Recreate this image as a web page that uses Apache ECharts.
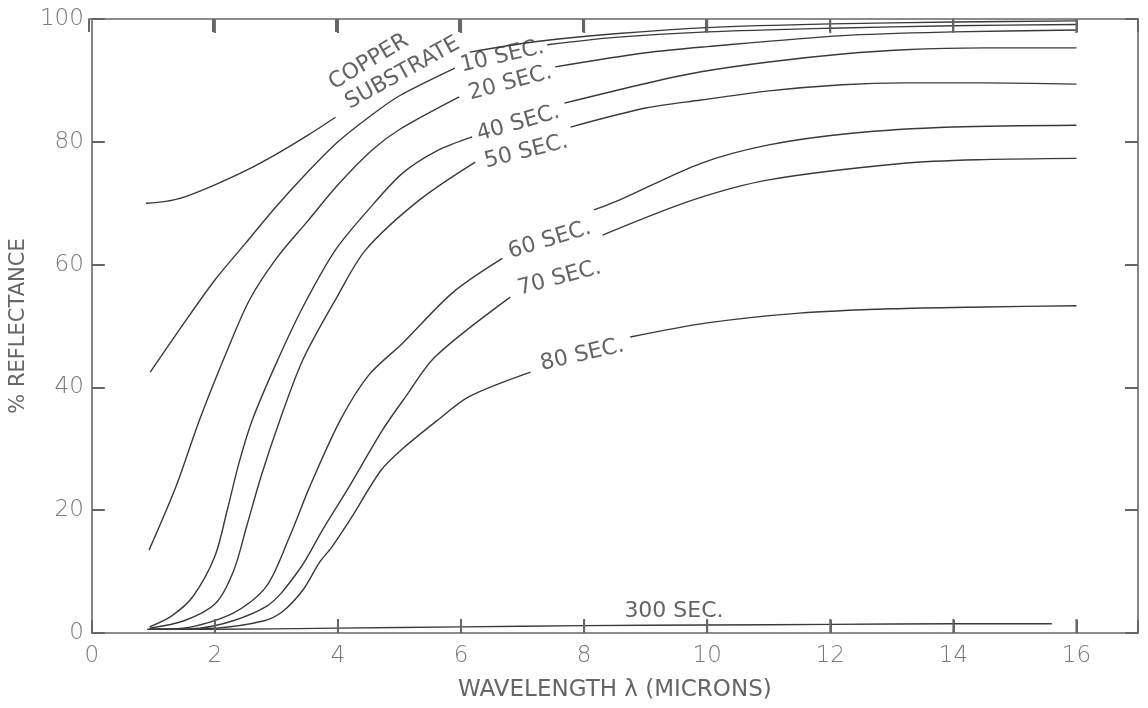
<!DOCTYPE html>
<html>
<head>
<meta charset="utf-8">
<script src="https://cdn.jsdelivr.net/npm/echarts@6/dist/echarts.min.js"></script>
<style>
  html, body { margin: 0; padding: 0; background: #fff; }
  #main { width: 1148px; height: 708px; }
</style>
</head>
<body>
<div id="main"></div>
<script>
// reflectance curves; null = gap where the label sits
var copper = [[0.88, 70], [1.2, 70.3], [1.5, 71], [2.0, 73], [2.5, 75.3], [3.0, 78], [3.5, 81], [3.96, 84], null,
    [6.14, 94.6], [7.2, 96.3], [8.5, 97.6], [10, 98.6], [12, 99.2], [14, 99.5], [16, 99.7]];
var sec10 = [[0.95, 42.5], [1.5, 50.5], [2.0, 57.5], [2.5, 63.5], [3.0, 69.5], [3.5, 75], [4.0, 80], [4.5, 84], [5.0, 87.5], [5.9, 92], null,
    [7.4, 95.8], [8.5, 97], [10, 97.9], [12, 98.5], [14, 98.9], [16, 99.1]];
var sec20 = [[0.93, 13.5], [1.37, 23.9], [1.75, 34.7], [2.2, 46], [2.56, 54.2], [3.0, 61], [3.5, 67], [4.0, 73], [4.56, 78.7], [5.0, 82], [5.97, 87.3], null,
    [7.53, 92.2], [9, 94.5], [10, 95.5], [12.2, 97.3], [14, 97.9], [16, 98.2]];
var sec40 = [[0.94, 1], [1.3, 2.8], [1.64, 5.9], [2.0, 12.5], [2.2, 20], [2.4, 28], [2.62, 35], [3.0, 44], [3.43, 53.1], [3.96, 62.4],
    [4.5, 69], [5.05, 74.9], [5.6, 78.5], [6.18, 80.8], null,
    [7.68, 86.3], [9, 89.5], [9.9, 91.4], [11, 93], [12.2, 94.3], [13.2, 95], [14.5, 95.3], [16, 95.3]];
var sec50 = [[0.94, 0.8], [1.5, 2], [2.01, 4.8], [2.3, 10], [2.52, 17.5], [2.75, 25.5], [3.05, 34.5], [3.43, 44.5], [4.0, 55], [4.45, 62.4],
    [5.32, 70.5], [6.23, 76.7], null,
    [7.78, 82.4], [9, 85.5], [9.9, 86.8], [11, 88.3], [12.2, 89.3], [13.2, 89.6], [14.5, 89.6], [16, 89.4]];
var sec60 = [[0.94, 0.6], [1.48, 0.8], [2.29, 3.2], [2.83, 7.5], [3.21, 15.6], [3.54, 23.8], [4.04, 34.7], [4.5, 42], [5.05, 47.2], [5.86, 55.4], [6.67, 61], null,
    [8.16, 68.9], [8.57, 70.5], [9.9, 76.5], [11, 79.5], [12.35, 81.4], [14, 82.4], [16, 82.7]];
var sec70 = [[0.94, 0.6], [1.75, 0.8], [2.83, 4.3], [3.37, 10.3], [3.75, 16.8], [4.18, 23.8], [4.72, 33], [5.1, 38.5], [5.58, 45], [6.8, 54.7], null,
    [8.3, 64.8], [9.76, 70.5], [11, 73.8], [13.2, 76.5], [14.5, 77.1], [16, 77.3]];
var sec80 = [[0.94, 0.6], [2.01, 0.8], [2.8, 2], [3.1, 3.5], [3.43, 7], [3.7, 11.5], [3.9, 14], [4.2, 18.5], [4.7, 26.5], [5.05, 30], [5.6, 34.5],
    [6.13, 38.5], [7.13, 42.5], null,
    [8.75, 48.2], [10, 50.5], [11.5, 52.1], [13, 52.8], [14.5, 53.1], [16, 53.3]];
var sec300 = [[0.9, 0.6], [2, 0.6], [4, 0.8], [6, 1.0], [8, 1.2], [10, 1.3], [12, 1.4], [14, 1.5], [15.6, 1.5]];

var curveNames = ['COPPER SUBSTRATE', '10 SEC.', '20 SEC.', '40 SEC.', '50 SEC.', '60 SEC.', '70 SEC.', '80 SEC.', '300 SEC.'];
var curves = [copper, sec10, sec20, sec40, sec50, sec60, sec70, sec80, sec300];

// wavelength tick marks drawn on the bottom and top frame
var xTicks = [2, 4, 6, 8, 10, 12, 14, 16];

// curve labels: text, where it sits (x, y in data units), tilt
var labelText = ['COPPER', 'SUBSTRATE', '10 SEC.', '20 SEC.', '40 SEC.', '50 SEC.', '60 SEC.', '70 SEC.', '80 SEC.', '300 SEC.'];
var labelAt = [[4.5, 93], [5.05, 91.2], [6.67, 93.9], [6.8, 89.6], [6.93, 83], [7.06, 78.4], [7.44, 64], [7.6, 57.8], [7.97, 45.3], [9.46, 3.5]];
var labelTilt = [31, 29, 13, 15, 16, 14, 17, 15, 13, 0];

var FONT = 'DejaVu Sans';
var INK = '#3a3a3a';
var AXIS = '#666666';
var TICK_COLOR = '#7a7a7a';

var panel = document.getElementById('main');
var myChart = echarts.init(panel);

var series = [];
for (var i = 0; i < curves.length; i++) {
    series.push({
        name: curveNames[i],
        type: 'line',
        smooth: 0.3,
        symbol: 'none',
        connectNulls: false,
        silent: true,
        lineStyle: { color: INK, width: 1.4 },
        data: curves[i].map(function (p) { return p ? p : ['-', '-']; })
    });
}

var labelData = [];
for (var j = 0; j < labelText.length; j++) {
    labelData.push({
        name: labelText[j],
        value: labelAt[j],
        label: { rotate: labelTilt[j] }
    });
}
series.push({
    name: 'labels',
    type: 'scatter',
    symbolSize: 0,
    silent: true,
    data: labelData,
    label: {
        show: true,
        position: 'inside',
        formatter: '{b}',
        color: '#3c3c3c',
        fontFamily: FONT,
        fontSize: 22
    }
});

// inward x ticks on both horizontal frame lines, as thin filled bars
series.push({
    name: 'xticks',
    type: 'custom',
    silent: true,
    clip: false,
    z: 10,
    data: xTicks.map(function (v) { return [v, 0]; }),
    renderItem: function (params, api) {
        var b = api.coord([api.value(0), 0]);
        var t = api.coord([api.value(0), 100]);
        var st = { fill: AXIS };
        return {
            type: 'group',
            children: [
                { type: 'rect', shape: { x: b[0] - 1, y: b[1] - 14, width: 2, height: 14 }, style: st },
                { type: 'rect', shape: { x: t[0] - 1, y: t[1], width: 2, height: 14 }, style: st }
            ]
        };
    }
});

function tick() {
    return { show: true, inside: true, length: 13, lineStyle: { color: AXIS, width: 2 } };
}
function frameLine() {
    return { show: true, onZero: false, lineStyle: { color: AXIS, width: 1.6 } };
}

// grid 0 holds the data, grid 1 sits on top of it and only draws the mirrored top/right frame
var box = { left: 89, right: 10, top: 19, bottom: 75 };

option = {
    backgroundColor: '#fff',
    animation: false,
    grid: [
        { left: box.left, right: box.right, top: box.top, bottom: box.bottom },
        { left: box.left, right: box.right, top: box.top, bottom: box.bottom }
    ],
    xAxis: [
        {
            type: 'value', gridIndex: 0, min: 0, max: 17, interval: 2, position: 'bottom',
            axisLine: frameLine(),
            axisTick: tick(),
            splitLine: { show: false },
            name: 'WAVELENGTH λ (MICRONS)',
            nameLocation: 'middle',
            nameGap: 46,
            nameTextStyle: { color: '#666', fontFamily: FONT, fontSize: 23 },
            axisLabel: {
                margin: 12,
                color: TICK_COLOR, fontFamily: FONT, fontWeight: 'lighter', fontSize: 23,
                formatter: function (v) { return v % 2 === 0 ? v : ''; }
            }
        },
        {
            type: 'value', gridIndex: 1, min: 0, max: 17, interval: 2, position: 'top',
            axisLine: frameLine(),
            axisTick: tick(),
            splitLine: { show: false },
            axisLabel: { show: false }
        }
    ],
    yAxis: [
        {
            type: 'value', gridIndex: 0, min: 0, max: 100, interval: 20, position: 'left',
            axisLine: frameLine(),
            axisTick: tick(),
            splitLine: { show: false },
            name: '% REFLECTANCE',
            nameLocation: 'middle',
            nameGap: 62,
            nameTextStyle: { color: '#666', fontFamily: FONT, fontSize: 21 },
            axisLabel: {
                margin: 8,
                color: TICK_COLOR, fontFamily: FONT, fontWeight: 'lighter', fontSize: 23
            }
        },
        {
            type: 'value', gridIndex: 1, min: 0, max: 100, interval: 20, position: 'right',
            axisLine: frameLine(),
            axisTick: tick(),
            splitLine: { show: false },
            axisLabel: { show: false }
        }
    ],
    series: series
};

myChart.setOption(option);
</script>
</body>
</html>
